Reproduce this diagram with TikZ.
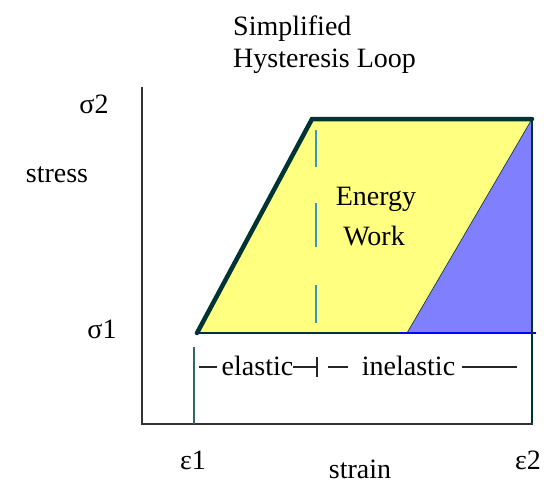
\documentclass[tikz,border=0pt]{standalone}
\usepackage{fontspec}
\setmainfont{Liberation Serif}
\definecolor{loopyellow}{HTML}{FFFF80}
\definecolor{loopblue}{HTML}{8080FF}
\definecolor{darkteal}{HTML}{003333}
\definecolor{axisgray}{HTML}{333333}
\definecolor{dashblue}{HTML}{3399CC}
\definecolor{tealline}{HTML}{336666}
\definecolor{pureblue}{HTML}{0000FF}
\tikzset{
  lbl/.style={inner sep=0pt, font=\fontsize{28}{32}\selectfont, text=black},
  axisline/.style={draw=axisgray, line width=2pt},
  thickedge/.style={draw=darkteal, line width=4.5pt, line cap=round},
  thinedge/.style={draw=darkteal, line width=1.5pt},
  rowdash/.style={draw=black!85, line width=1.3pt},
}
\begin{document}
\begin{tikzpicture}[x=1pt,y=-1pt]
\useasboundingbox (0,0) rectangle (553,485);
\fill[white] (0,0) rectangle (553,485);
% key points
\coordinate (O) at (142,424);
\coordinate (Ytop) at (142,87);
\coordinate (Xend) at (533,424);
\coordinate (BL) at (197,333);
\coordinate (TL) at (312,119);
\coordinate (TR) at (532,119);
\coordinate (BR) at (407,333);
\coordinate (BRR) at (532,333);
\coordinate (BRX) at (536,333);
\coordinate (Bmid) at (400,333);
% fills
\fill[loopyellow] (BL) -- (TL) -- (TR) -- (BR) -- cycle;
\fill[loopblue] (BR) -- (TR) -- (BRR) -- cycle;
% dashed line inside
\coordinate (D1a) at (316,130); \coordinate (D1b) at (316,167);
\coordinate (D2a) at (316,203); \coordinate (D2b) at (316,247);
\coordinate (D3a) at (316,285); \coordinate (D3b) at (316,323);
\draw[dashblue, line width=2pt] (D1a) -- (D1b) (D2a) -- (D2b) (D3a) -- (D3b);
% edges
\draw[thinedge, line width=1.2pt] (BL) -- (Bmid);
\draw[pureblue, line width=1.3pt] (Bmid) -- (BRX);
\draw[darkteal, line width=0.6pt] (BR) -- (TR);
\draw[thinedge, line width=1.8pt] (TR) -- (532,424);
\draw[thickedge] (BL) -- (TL) -- (TR);
% axes
\draw[axisline] (Ytop) -- (O) -- (Xend);
% epsilon1 marker
\coordinate (E1top) at (194,347);
\coordinate (E1bot) at (194,424);
\draw[tealline, line width=1.5pt] (E1top) -- (E1bot);
% elastic / inelastic row
\coordinate (r1a) at (199,367); \coordinate (r1b) at (217,367);
\coordinate (r2a) at (293,367); \coordinate (r2b) at (317,367);
\coordinate (tkA) at (317,357); \coordinate (tkB) at (317,377);
\coordinate (r3a) at (328,367); \coordinate (r3b) at (348,367);
\coordinate (r4a) at (462,367); \coordinate (r4b) at (517,367);
\draw[rowdash] (r1a) -- (r1b) (r2a) -- (r2b) (r3a) -- (r3b) (r4a) -- (r4b);
\draw[rowdash, line width=1.6pt] (tkA) -- (tkB);
\node[lbl] (elastic) at (257.5,366) {elastic};
\node[lbl] (inelastic) at (408.5,366) {inelastic};
% labels
\node[lbl, anchor=base west] (t1) at (233,35) {Simplified};
\node[lbl, anchor=base west] (t2) at (233,67) {Hysteresis Loop};
\node[lbl] (s2) at (94,104) {σ2};
\node[lbl] (stress) at (57,175) {stress};
\node[lbl] (s1) at (102,329) {σ1};
\node[lbl, anchor=base] (energy) at (376,205) {Energy};
\node[lbl, anchor=base] (work) at (374,245) {Work};
\node[lbl] (e1) at (193,460) {ε1};
\node[lbl] (e2) at (528,460) {ε2};
\node[lbl, anchor=base] (strain) at (360,478) {strain};
\end{tikzpicture}
\end{document}
